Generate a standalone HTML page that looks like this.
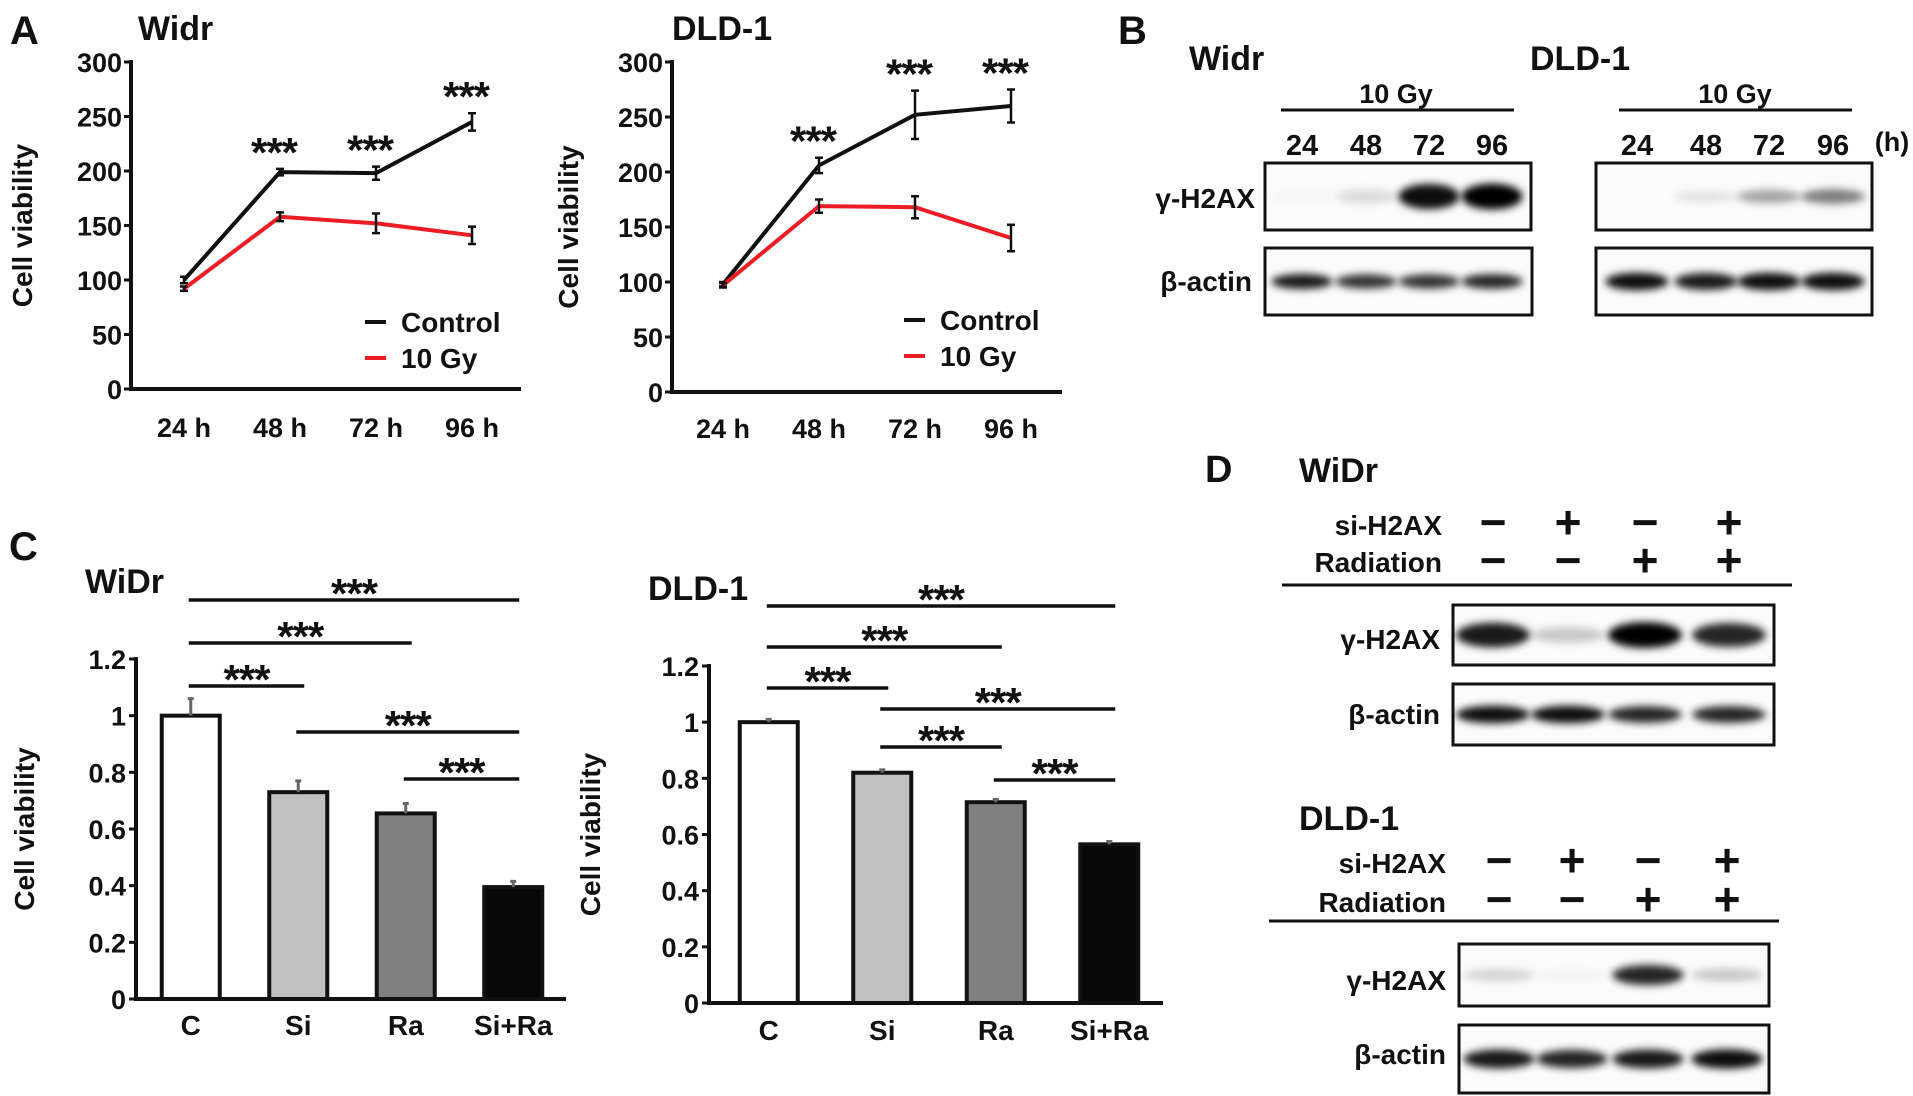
<!DOCTYPE html>
<html><head><meta charset="utf-8"><style>
html,body{margin:0;padding:0;background:#fff;}
svg{display:block;font-family:"Liberation Sans",Arial,sans-serif;}
text{font-weight:bold;fill:#111;}
</style></head><body>
<svg id="fig" width="1913" height="1096" viewBox="0 0 1913 1096" xmlns="http://www.w3.org/2000/svg">
<defs>
<filter id="blur" x="-30%" y="-80%" width="160%" height="260%"><feGaussianBlur stdDeviation="4"/></filter>
</defs>
<g id="static">
<text x="10" y="44" font-size="40">A</text>
<text x="138" y="40" font-size="34">Widr</text>
<text x="672" y="40" font-size="34">DLD-1</text>
<text x="9" y="560" font-size="40">C</text>
<text x="85" y="593" font-size="34">WiDr</text>
<text x="648" y="600" font-size="34">DLD-1</text>
<text x="1118" y="44" font-size="40">B</text>
<text x="1189" y="70" font-size="34">Widr</text>
<text x="1530" y="70" font-size="34">DLD-1</text>
<text x="1205" y="482" font-size="38">D</text>
<text x="1299" y="482" font-size="34">WiDr</text>
<text x="1299" y="830" font-size="34">DLD-1</text>
</g>
</svg>
<script>
// ---- data ----
const lineCategories = ["24 h","48 h","72 h","96 h"];
const lineTicks = [0,50,100,150,200,250,300];
const widrControl = [100,199,198,245];
const widrControlErr = [3,3,6,8];
const widrGy = [92,158,152,141];
const widrGyErr = [2,4,9,8];
const widrLineStars = ["","***","***","***"];
const dldControl = [98,206,252,260];
const dldControlErr = [2,7,22,15];
const dldGy = [97,169,168,140];
const dldGyErr = [2,6,10,12];
const dldLineStars = ["","***","***","***"];

const barCategories = ["C","Si","Ra","Si+Ra"];
const barTicks = [0,0.2,0.4,0.6,0.8,1,1.2];
const barTickLabels = ["0","0.2","0.4","0.6","0.8","1","1.2"];
const widrBars = [1.0,0.73,0.655,0.395];
const widrBarErr = [0.06,0.04,0.035,0.02];
const dldBars = [1.0,0.82,0.715,0.565];
const dldBarErr = [0.01,0.01,0.01,0.01];
const barFills = ["#ffffff","#c0c0c0","#808080","#080808"];

const widrTimeBand = [0.02,0.12,0.95,1.0];
const dldTimeBand = [0.0,0.1,0.35,0.5];
const widrTimeActin = [0.9,0.8,0.8,0.85];
const dldTimeActin = [0.95,0.9,0.95,0.95];
const widrSiBand = [0.9,0.2,1.0,0.85];
const widrSiActin = [0.95,0.95,0.85,0.85];
const dldSiBand = [0.15,0.03,0.85,0.2];
const dldSiActin = [0.9,0.85,0.9,0.95];
const siSigns = ["-","+","-","+"];
const radSigns = ["-","-","+","+"];

const NS="http://www.w3.org/2000/svg";
const svg=document.getElementById('fig');
function el(tag,attrs,parent,txt){const e=document.createElementNS(NS,tag);for(const k in attrs)e.setAttribute(k,attrs[k]);if(txt!==undefined)e.textContent=txt;(parent||svg).appendChild(e);return e;}

function lineChart(o){
  const g=el('g',{});
  
  
  const y=v=>o.y0-(v-0)/300*(o.y0-o.y1);
  const x=i=>o.xs+i*o.step;
  const ax=el('path',{d:`M${o.ax},${o.y1-2}V${o.y0}H${o.axEnd}`,stroke:'#111','stroke-width':4,fill:'none'},g);
  
  lineTicks.forEach(t=>{
    const tk=el('line',{x1:o.ax-7,x2:o.ax,y1:y(t),y2:y(t),stroke:'#111','stroke-width':3},g);
    
    const tl=el('text',{x:o.ax-9,y:y(t)+10,'text-anchor':'end','font-size':27},g,String(t));
    
  });
  lineCategories.forEach((c,i)=>{
    const t=el('text',{x:x(i),y:o.labY,'text-anchor':'middle','font-size':27},g,c);
    
  });
  const yl=el('text',{transform:`translate(${o.ylx},${(o.y0+o.y1)/2}) rotate(-90)`,'text-anchor':'middle','font-size':28},g,'Cell viability');
  
  [[o.ctrl,o.ctrlErr,'#111','control-line'],[o.gy,o.gyErr,'#ee1c24','10gy-line']].forEach(([d,e,col,nm])=>{
    const p=el('polyline',{points:d.map((v,i)=>`${x(i)},${y(v)}`).join(' '),fill:'none',stroke:col,'stroke-width':4},g);
    
    d.forEach((v,i)=>{
      const eb=el('path',{d:`M${x(i)},${y(v+e[i])}V${y(v-e[i])}M${x(i)-4},${y(v+e[i])}h8M${x(i)-4},${y(v-e[i])}h8`,stroke:'#111','stroke-width':2.5,fill:'none'},g);
      
    });
  });
  o.stars.forEach((s,i)=>{ if(!s)return;
    const top=Math.max(o.ctrl[i]+o.ctrlErr[i],o.gy[i]+o.gyErr[i]);
    const st=el('text',{x:x(i)-6,y:y(top)-2,'text-anchor':'middle','font-size':42,'letter-spacing':'-1'},g,s);
    
  });
  [['Control','#111',o.legY],['10 Gy','#ee1c24',o.legY+36]].forEach(([lab,col,ly])=>{
    const lg=el('g',{},g);
    el('line',{x1:o.legX,x2:o.legX+21,y1:ly,y2:ly,stroke:col,'stroke-width':4},lg);
    el('text',{x:o.legX+36,y:ly+10,'font-size':28},lg,lab);
  });
}
lineChart({name:'widr-line-chart',ax:131,axEnd:521,y0:389,y1:62,xs:184,step:96,labY:437,ylx:32,ctrl:widrControl,ctrlErr:widrControlErr,gy:widrGy,gyErr:widrGyErr,stars:widrLineStars,legX:365,legY:322});
lineChart({name:'dld1-line-chart',ax:672,axEnd:1062,y0:392,y1:62,xs:723,step:96,labY:438,ylx:578,ctrl:dldControl,ctrlErr:dldControlErr,gy:dldGy,gyErr:dldGyErr,stars:dldLineStars,legX:904,legY:320});

function barChart(o){
  const g=el('g',{});
  
  
  const y=v=>o.y0-v/1.2*(o.y0-o.y1);
  const band=(o.axEnd-o.ax)/barCategories.length;
  const cx=i=>o.ax+(i+0.5)*band+o.shift;
  barTicks.forEach((t,k)=>{
    const tk=el('line',{x1:o.ax-7,x2:o.ax,y1:y(t),y2:y(t),stroke:'#111','stroke-width':3},g);
    
    const tl=el('text',{x:o.ax-10,y:y(t)+10,'text-anchor':'end','font-size':27},g,barTickLabels[k]);
    
  });
  o.vals.forEach((v,i)=>{
    const r=el('rect',{x:cx(i)-29,y:y(v),width:58,height:o.y0-y(v),fill:barFills[i],stroke:'#111','stroke-width':4},g);
    
    const e=el('path',{d:`M${cx(i)},${y(v)}V${y(v+o.err[i])}M${cx(i)-3},${y(v+o.err[i])}h6`,stroke:'#666','stroke-width':3},g);
    
    const t=el('text',{x:cx(i),y:o.labY,'text-anchor':'middle','font-size':28},g,barCategories[i]);
    
  });
  const ax=el('path',{d:`M${o.ax},${o.y1-2}V${o.y0}H${o.axEnd}`,stroke:'#111','stroke-width':4,fill:'none'},g);
  
  const yl=el('text',{transform:`translate(${o.ylx},${(o.y0+o.y1)/2}) rotate(-90)`,'text-anchor':'middle','font-size':28},g,'Cell viability');
  
  o.sig.forEach(([a,b,ly])=>{
    const x1=cx(a)-2, x2=cx(b)+6;
    const l=el('line',{x1:x1,x2:x2,y1:ly,y2:ly,stroke:'#111','stroke-width':3.5},g);
    
    const s=el('text',{x:(x1+x2)/2,y:ly+8,'text-anchor':'middle','font-size':42,'letter-spacing':'-1'},g,'***');
    
  });
}
barChart({name:'widr-bar-chart',ax:136,axEnd:566,y0:999,y1:659,shift:1,labY:1035,ylx:34,vals:widrBars,err:widrBarErr,
  sig:[[0,3,600],[0,2,643],[0,1,686],[1,3,732],[2,3,779]]});
barChart({name:'dld1-bar-chart',ax:709,axEnd:1163,y0:1003,y1:666,shift:3,labY:1040,ylx:600,vals:dldBars,err:dldBarErr,
  sig:[[0,3,606],[0,2,647],[0,1,688],[1,3,709],[1,2,747],[2,3,780]]});

function blot(name,x,y,w,h,lanes,vals,hgt){
  const g=el('g',{});
  
  
  el('rect',{x:x,y:y,width:w,height:h,fill:'#fbfbfb',stroke:'#111','stroke-width':3},g);
  vals.forEach((v,i)=>{ if(v<=0)return;
    const e=el('ellipse',{cx:lanes[i],cy:y+h/2,rx:(w/4)*0.46,ry:hgt*(0.5+0.5*v),fill:'#000','fill-opacity':Math.min(1,v),filter:'url(#blur)'},g);
    
  });
}
function label(txt,x,y,name,size){const t=el('text',{x:x,y:y,'text-anchor':'end','font-size':size||28},svg,txt);
  }
function ctext(txt,x,y,name,size){const t=el('text',{x:x,y:y,'text-anchor':'middle','font-size':size||28},svg,txt);
  }
function hline(x1,x2,y,name){const l=el('line',{x1:x1,x2:x2,y1:y,y2:y,stroke:'#111','stroke-width':3});
  }

// Panel B
const hours=["24","48","72","96"];
const bWl=[1302,1366,1429,1492], bDl=[1637,1706,1769,1833];
ctext('10 Gy',1396,103,'widr-dose-label',27);hline(1281,1514,110,'widr-dose-line');
ctext('10 Gy',1735,103,'dld1-dose-label',27);hline(1619,1852,110,'dld1-dose-line');
hours.forEach((h,i)=>{ctext(h,bWl[i],155,'widr-hour-label',29);ctext(h,bDl[i],155,'dld1-hour-label',29);});
ctext('(h)',1892,151,'hour-unit',27);
label('γ-H2AX',1255,208,'gh2ax-label');label('β-actin',1252,291,'actin-label');
blot('widr-gh2ax-blot',1265,163,266,67,bWl,widrTimeBand,13);
blot('widr-actin-blot',1265,248,267,67,bWl,widrTimeActin,8);
blot('dld1-gh2ax-blot',1596,163,276,67,bDl,dldTimeBand,10);
blot('dld1-actin-blot',1596,248,276,67,bDl,dldTimeActin,9);

// Panel D
const dW=[1493,1568,1645,1729], dD=[1499,1572,1648,1727];
label('si-H2AX',1442,535,'si-h2ax-label');label('Radiation',1442,572,'radiation-label');
siSigns.forEach((s,i)=>{ctext(s==='-'?'−':'+',dW[i],538,'si-sign',46);ctext(radSigns[i]==='-'?'−':'+',dW[i],576,'rad-sign',46);});
hline(1282,1792,585,'widr-header-line');
label('γ-H2AX',1440,649,'gh2ax-label');label('β-actin',1440,724,'actin-label');
blot('widr-si-gh2ax-blot',1453,605,321,60,dW,widrSiBand,13);
blot('widr-si-actin-blot',1453,684,321,61,dW,widrSiActin,9);
label('si-H2AX',1446,873,'si-h2ax-label');label('Radiation',1446,912,'radiation-label');
siSigns.forEach((s,i)=>{ctext(s==='-'?'−':'+',dD[i],876,'si-sign',46);ctext(radSigns[i]==='-'?'−':'+',dD[i],915,'rad-sign',46);});
hline(1269,1779,921,'dld1-header-line');
label('γ-H2AX',1446,990,'gh2ax-label');label('β-actin',1446,1064,'actin-label');
blot('dld1-si-gh2ax-blot',1459,944,310,62,dD,dldSiBand,11);
blot('dld1-si-actin-blot',1459,1025,310,68,dD,dldSiActin,10);
</script>
</body></html>
